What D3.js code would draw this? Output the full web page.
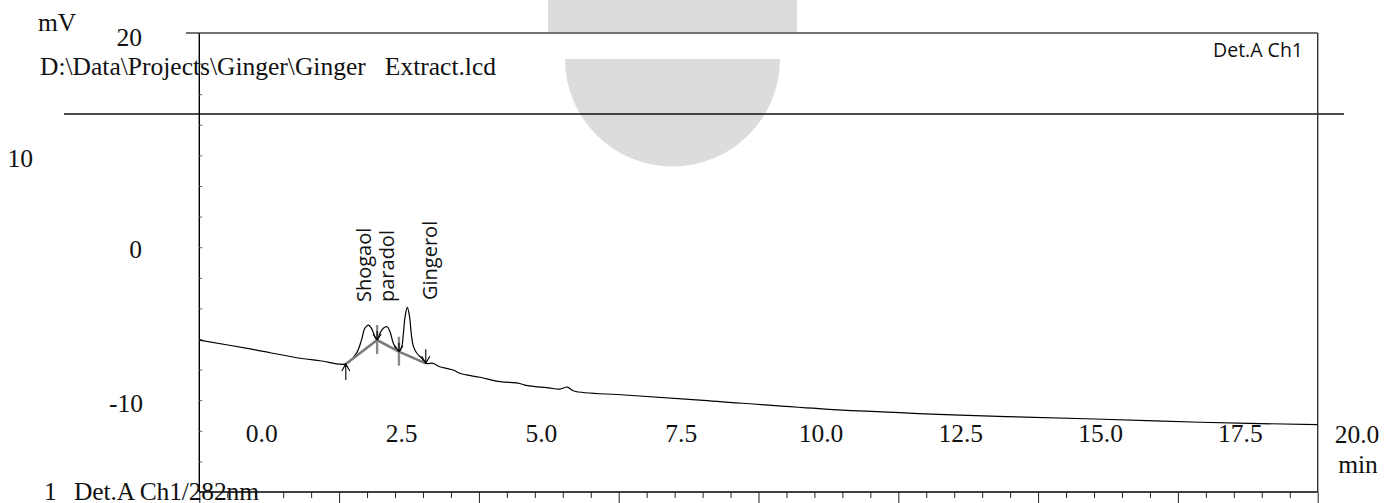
<!DOCTYPE html>
<html>
<head>
<meta charset="utf-8">
<script src="https://cdn.jsdelivr.net/npm/d3@7"></script>
<style>
  html, body { margin: 0; padding: 0; background: #fff; }
  svg { display: block; }
  .serif { font-family: "Liberation Serif", "Times New Roman", serif; font-size: 25.5px; fill: #111; }
  .sans { font-family: "Open Sans", sans-serif; fill: #111; }
</style>
</head>
<body>
<svg id="chart" width="1396" height="503"></svg>
<script>
// Chromatogram trace (retention time in min, detector signal in mV)
const times = [0, 0.91, 1.80, 2.16, 2.62, 2.81, 2.90, 2.96, 3.02, 3.08,
  3.14, 3.18, 3.23, 3.29, 3.36, 3.41, 3.47, 3.53, 3.57, 3.62,
  3.65, 3.68, 3.72, 3.76, 3.79, 3.83, 3.89, 3.98, 4.05, 4.18,
  4.30, 4.42, 4.54, 4.66, 4.78, 5.02, 5.38, 5.70, 5.82, 6.25,
  6.45, 6.58, 6.70, 7.61, 8.95, 11.19, 13.60, 16.02, 17.90, 20.0];
const signal = [-6.07, -6.65, -7.26, -7.42, -7.63, -6.93, -6.07, -5.30, -5.09, -5.30,
  -5.85, -6.07, -5.63, -5.30, -5.20, -5.52, -6.28, -6.72, -6.83, -6.50,
  -5.63, -4.54, -3.93, -4.54, -5.63, -6.50, -6.93, -7.26, -7.59, -7.59,
  -7.81, -7.92, -8.03, -8.24, -8.35, -8.50, -8.79, -8.88, -9.01, -9.20,
  -9.27, -9.14, -9.40, -9.66, -9.99, -10.58, -10.97, -11.23, -11.44, -11.60];

// integration baseline drawn under the peaks
const baseTimes = [2.62, 3.18, 3.57, 4.05];
const baseValues = [-7.63, -6.07, -6.83, -7.59];

// peak names and where their labels stand
const peakNames = ['Shogaol', 'paradol', 'Gingerol'];
const peakLabelTimes = [2.93, 3.34, 4.12];

// axis ticks
const xTickValues = d3.range(0, 20.001, 0.5);
const xLabelValues = [0, 2.5, 5, 7.5, 10, 12.5, 15, 17.5];
const yTickValues = d3.range(-16, 14.001, 2);
const yLabels = ['20', '10', '0', '-10'];

const svg = d3.select('#chart');

const x = d3.scaleLinear().domain([0, 20]).range([199.3, 1317.7]);
const y = d3.scaleLinear().domain([-16, 14]).range([492, 33]);

// grey watermark shape behind everything
svg.append('rect')
  .attr('x', 548).attr('y', 0).attr('width', 249).attr('height', 32)
  .attr('fill', '#dcdcde');
svg.append('path')
  .attr('d', 'M565,59 A107.5,107.5 0 0 0 780,59 Z')
  .attr('fill', '#dcdcde');

// frame lines
const frame = svg.append('g').attr('stroke-width', 1.4).attr('fill', 'none');
frame.append('line').attr('x1', 186).attr('x2', x.range()[1]).attr('y1', 33).attr('y2', 33).attr('stroke', '#444');
frame.append('line').attr('x1', 64).attr('x2', 1344).attr('y1', 114).attr('y2', 114).attr('stroke', '#111');
frame.append('line').attr('x1', x.range()[1]).attr('x2', x.range()[1]).attr('y1', 33).attr('y2', 492).attr('stroke', '#333');

// left axis with small inner ticks
svg.append('g')
  .attr('transform', `translate(${x.range()[0]},0)`)
  .call(d3.axisRight(y).tickValues(yTickValues).tickSize(3).tickFormat(''))
  .call(g => g.select('.domain').attr('stroke', '#000').attr('stroke-width', 1.4).attr('d', 'M0,33V492'))
  .call(g => g.selectAll('.tick line').attr('stroke', '#666'));

// bottom axis: minor ticks every 0.5 min, major every 2.5 min
svg.append('g')
  .attr('transform', `translate(0,${y.range()[0]})`)
  .call(d3.axisBottom(x).tickValues(xTickValues).tickSize(6).tickFormat(''))
  .call(g => g.select('.domain').attr('stroke', '#000').attr('stroke-width', 1.4).attr('d', `M${x.range()[0]},0H${x.range()[1]}`))
  .call(g => g.selectAll('.tick line')
    .attr('stroke', '#222')
    .attr('y2', d => (Math.abs(d / 2.5 - Math.round(d / 2.5)) < 1e-6) ? 12 : 6));

// the tick labels of the source sit to the right of their tick marks
const xLabelShift = 62.5;
svg.append('g').selectAll('text')
  .data(xLabelValues)
  .join('text')
  .attr('class', 'serif')
  .attr('text-anchor', 'middle')
  .attr('x', d => x(d) + xLabelShift)
  .attr('y', 442)
  .text(d => d.toFixed(1));
svg.append('text').attr('class', 'serif').attr('text-anchor', 'middle')
  .attr('x', 1357).attr('y', 443).text('20.0');
svg.append('text').attr('class', 'serif').attr('text-anchor', 'middle')
  .attr('x', 1358).attr('y', 473).text('min');

const yLabelPos = [[142, 46], [33, 167], [142, y(0) + 11], [143, y(-10) + 12]];
svg.append('g').selectAll('text')
  .data(yLabels)
  .join('text')
  .attr('class', 'serif')
  .attr('text-anchor', 'end')
  .attr('x', (d, i) => yLabelPos[i][0])
  .attr('y', (d, i) => yLabelPos[i][1])
  .text(d => d);

svg.append('text').attr('class', 'serif').attr('x', 38).attr('y', 31).text('mV');
svg.append('text').attr('class', 'serif').attr('x', 40).attr('y', 75)
  .style('white-space', 'pre')
  .text('D:\\Data\\Projects\\Ginger\\Ginger   Extract.lcd');
svg.append('text').attr('class', 'serif').attr('x', 44).attr('y', 500).text('1');
svg.append('text').attr('class', 'serif').attr('x', 74).attr('y', 500)
  .attr('textLength', 185)
  .text('Det.A Ch1/282nm');

svg.append('text').attr('class', 'sans').attr('font-size', 19.5)
  .attr('text-anchor', 'end').attr('x', 1303).attr('y', 57).text('Det.A Ch1');

// the trace
const pts = times.map((t, i) => [t, signal[i]]);
const line = d3.line()
  .x(d => x(d[0]))
  .y(d => y(d[1]))
  .curve(d3.curveCatmullRom.alpha(0.5));
svg.append('path')
  .datum(pts)
  .attr('fill', 'none')
  .attr('stroke', '#000')
  .attr('stroke-width', 1.2)
  .attr('d', line);

// integration baseline and markers
const base = baseTimes.map((t, i) => [t, baseValues[i]]);
svg.append('path')
  .datum(base)
  .attr('fill', 'none')
  .attr('stroke', '#7a7a7a')
  .attr('stroke-width', 2.6)
  .attr('d', d3.line().x(d => x(d[0])).y(d => y(d[1])));

const mk = svg.append('g').attr('fill', 'none');
base.forEach((d, i) => {
  const px = x(d[0]), py = y(d[1]);
  if (i === 0) {
    mk.append('path').attr('stroke', '#000').attr('stroke-width', 1.1)
      .attr('d', `M${px},${py + 16}V${py}M${px - 4},${py + 7}L${px},${py}L${px + 4},${py + 7}`);
  } else if (i === base.length - 1) {
    mk.append('path').attr('stroke', '#000').attr('stroke-width', 1.1)
      .attr('d', `M${px},${py - 14}V${py}M${px - 4},${py - 7}L${px},${py}L${px + 4},${py - 7}`);
  } else {
    mk.append('path').attr('stroke', '#8a8a8a').attr('stroke-width', 2.4)
      .attr('d', `M${px},${py - 15}V${py + 14}`);
    mk.append('path').attr('stroke', '#000').attr('stroke-width', 1.1)
      .attr('d', `M${px},${py - 9}V${py}M${px - 4},${py - 6}L${px},${py}L${px + 4},${py - 6}`);
  }
});

// peak names, vertical
svg.append('g').selectAll('text')
  .data(peakNames)
  .join('text')
  .attr('class', 'sans')
  .attr('font-size', 20)
  .attr('dominant-baseline', 'central')
  .attr('transform', (d, i) => `translate(${x(peakLabelTimes[i])},${i === 2 ? 300 : 302}) rotate(-90)`)
  .text(d => d);
</script>
</body>
</html>
